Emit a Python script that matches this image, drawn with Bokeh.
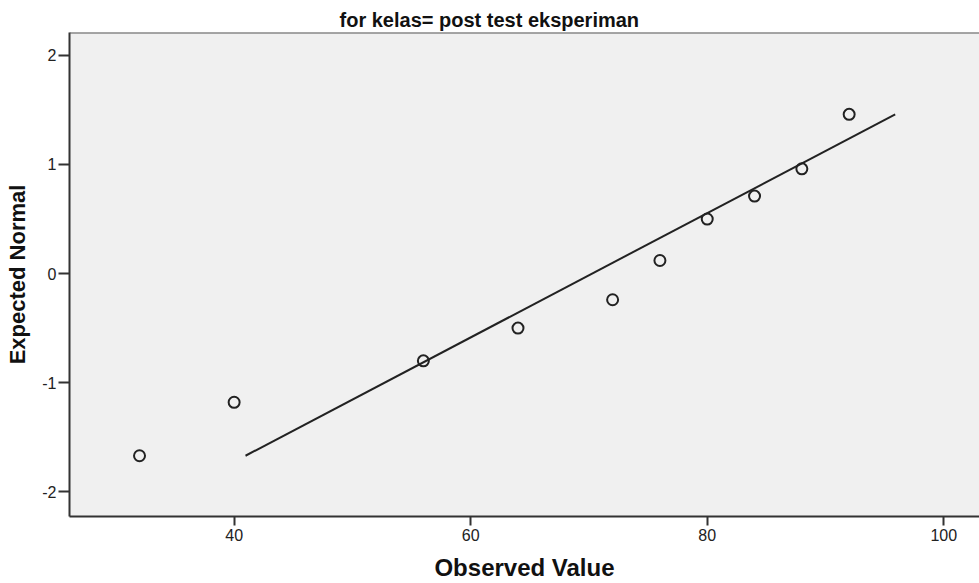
from bokeh.plotting import figure
from bokeh.models import Range1d, FixedTicker, Span, PrintfTickFormatter
from bokeh.embed import file_html
from bokeh.resources import INLINE

# Data (Normal Q-Q plot)
observed = [32, 40, 56, 64, 72, 76, 80, 84, 88, 92]
expected = [-1.67, -1.18, -0.80, -0.50, -0.24, 0.12, 0.50, 0.71, 0.96, 1.46]
fit_mean = 70.27
fit_sd = 17.55
x_ticks = [40, 60, 80, 100]
y_ticks = [-2, -1, 0, 1, 2]
title_text = "for kelas= post test eksperiman"
x_label = "Observed Value"
y_label = "Expected Normal"

FONT = "Liberation Sans"

p = figure(width=979, height=583, output_backend="svg", toolbar_location=None,
           x_range=Range1d(26.08, 103.02), y_range=Range1d(-2.227, 2.21),
           min_border_left=69, min_border_right=0, min_border_top=32, min_border_bottom=67)
p.title.text = title_text
p.title.align = "left"
p.title.offset = 270
p.title.standoff = 4
p.title.text_font = FONT
p.title.text_font_style = "bold"
p.title.text_font_size = "20px"
p.title.text_color = "#111111"

p.background_fill_color = "#f0f0f0"
p.border_fill_color = "white"
p.outline_line_color = None
p.grid.visible = False

# axes
for ax in (p.xaxis[0], p.yaxis[0]):
    ax.axis_line_color = "#333333"
    ax.axis_line_width = 2
    ax.major_tick_line_color = "#333333"
    ax.major_tick_line_width = 2
    ax.major_tick_in = 0
    ax.minor_tick_line_color = None
    ax.major_label_text_font = FONT
    ax.major_label_text_font_size = "16px"
    ax.major_label_text_color = "#222222"
    ax.axis_label_text_font = FONT
    ax.axis_label_text_font_style = "bold"
    ax.axis_label_text_color = "#111111"
    ax.formatter = PrintfTickFormatter(format="%d")

p.xaxis.axis_label_text_font_size = "24px"
p.yaxis.axis_label_text_font_size = "22px"
p.xaxis.ticker = FixedTicker(ticks=x_ticks)
p.yaxis.ticker = FixedTicker(ticks=y_ticks)
p.xaxis.major_tick_out = 9
p.yaxis.major_tick_out = 11
p.xaxis.major_label_standoff = 3
p.yaxis.major_label_standoff = 2
p.xaxis.axis_label = x_label
p.yaxis.axis_label = y_label
p.xaxis.axis_label_standoff = 10
p.yaxis.axis_label_standoff = 9

# top border of plot area
p.add_layout(Span(location=2.21, dimension="width", line_color="#555555", line_width=2))

# reference normal line
y0, y1 = min(expected), max(expected)
p.line([fit_mean + fit_sd * y0, fit_mean + fit_sd * y1], [y0, y1],
       line_color="#222222", line_width=2)

# observed points
p.scatter(observed, expected, size=11, marker="circle", fill_color=None,
          line_color="#222222", line_width=2)

open("out.html", "w").write(file_html(p, INLINE))
